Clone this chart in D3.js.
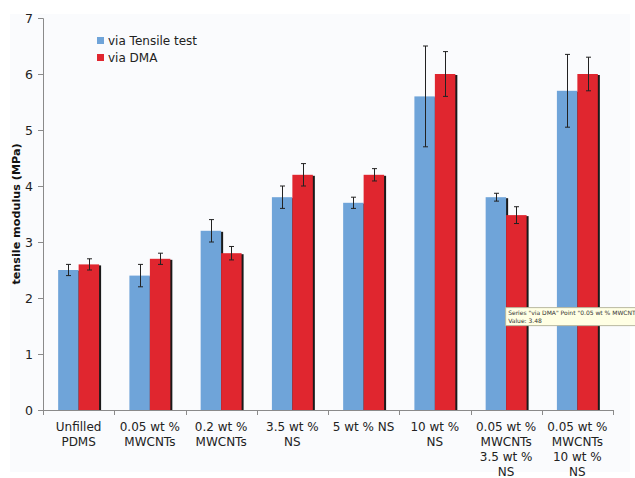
<!DOCTYPE html>
<html>
<head>
<meta charset="utf-8">
<script src="https://cdn.jsdelivr.net/npm/d3@7"></script>
<style>
  html, body { margin: 0; padding: 0; background: #ffffff; }
  svg { display: block; }
  text { font-family: "DejaVu Sans", Verdana, sans-serif; }
</style>
</head>
<body>
<svg id="chart" width="635" height="478"></svg>
<script>
// Sample groups (x-axis labels, one array of lines per group)
const categories = [
  ["Unfilled", "PDMS"],
  ["0.05 wt %", "MWCNTs"],
  ["0.2 wt %", "MWCNTs"],
  ["3.5 wt %", "NS"],
  ["5 wt % NS"],
  ["10 wt %", "NS"],
  ["0.05 wt %", "MWCNTs", "3.5 wt %", "NS"],
  ["0.05 wt %", "MWCNTs", "10 wt %", "NS"]
];
const seriesNames = ["via Tensile test", "via DMA"];
// Tensile modulus (MPa) and standard deviations
const tensileValues = [2.5, 2.4, 3.2, 3.8, 3.7, 5.6, 3.8, 5.7];
const tensileErrors = [0.1, 0.2, 0.2, 0.2, 0.1, 0.9, 0.07, 0.65];
const dmaValues = [2.6, 2.7, 2.8, 4.2, 4.2, 6.0, 3.48, 6.0];
const dmaErrors = [0.1, 0.1, 0.12, 0.2, 0.11, 0.4, 0.15, 0.3];
const yTicks = [0, 1, 2, 3, 4, 5, 6, 7];

const colors = ["#6fa4d9", "#e0262f"];
const svg = d3.select("#chart");

// faint chart-area background
svg.append("rect").attr("x", 10).attr("y", 14).attr("width", 620).attr("height", 458)
  .attr("fill", "#fafbfd");

const margin = { left: 43, right: 22, top: 18, bottom: 68 };
const W = 635, H = 478;
const x0 = d3.scaleBand().domain(d3.range(categories.length))
  .range([margin.left, W - margin.right]).paddingInner(0).paddingOuter(0);
const x1 = d3.scaleBand().domain([0, 1]).range([0, x0.bandwidth()])
  .paddingInner(0).paddingOuter(0.74);
const y = d3.scaleLinear().domain([0, 7]).range([H - margin.bottom, margin.top]);

const series = [
  { name: seriesNames[0], values: tensileValues, errors: tensileErrors },
  { name: seriesNames[1], values: dmaValues, errors: dmaErrors }
];

const gBars = svg.append("g");
// drop shadows behind bars
series.forEach((s, si) => {
  gBars.selectAll(".sh" + si).data(s.values).join("rect")
    .attr("x", (d, i) => x0(i) + x1(si) + 2)
    .attr("y", d => y(d) + 1)
    .attr("width", x1.bandwidth())
    .attr("height", d => y(0) - y(d) - 1)
    .attr("fill", "#1a1a1a");
});
series.forEach((s, si) => {
  gBars.selectAll(".bar" + si).data(s.values).join("rect")
    .attr("x", (d, i) => x0(i) + x1(si))
    .attr("y", d => y(d))
    .attr("width", x1.bandwidth())
    .attr("height", d => y(0) - y(d))
    .attr("fill", colors[si]);
});

// error bars
series.forEach((s, si) => {
  const g = svg.append("g").attr("stroke", "#222").attr("stroke-width", 1);
  s.values.forEach((v, i) => {
    const cx = Math.round(x0(i) + x1(si) + x1.bandwidth() / 2) + 0.5;
    const e = s.errors[i];
    g.append("line").attr("x1", cx).attr("x2", cx).attr("y1", y(v + e)).attr("y2", y(v - e));
    g.append("line").attr("x1", cx - 2.5).attr("x2", cx + 2.5).attr("y1", y(v + e)).attr("y2", y(v + e));
    g.append("line").attr("x1", cx - 2.5).attr("x2", cx + 2.5).attr("y1", y(v - e)).attr("y2", y(v - e));
  });
});

// y axis
const yAxis = svg.append("g").attr("transform", `translate(${margin.left},0)`)
  .call(d3.axisLeft(y).tickValues(yTicks).tickSize(5).tickPadding(5).tickFormat(d3.format("d")));
yAxis.select(".domain").attr("stroke", "#8a8a8a");
yAxis.selectAll(".tick line").attr("stroke", "#8a8a8a");
yAxis.selectAll(".tick text").attr("font-size", 12.5).attr("fill", "#222")
  .style("font-family", '"DejaVu Sans", Verdana, sans-serif');

// x axis with ticks at group boundaries
const xg = svg.append("g");
xg.append("line").attr("x1", margin.left).attr("x2", W - margin.right)
  .attr("y1", y(0) + 0.5).attr("y2", y(0) + 0.5).attr("stroke", "#8a8a8a");
d3.range(categories.length + 1).forEach(i => {
  const xx = Math.round(i < categories.length ? x0(i) : x0(i - 1) + x0.bandwidth()) + 0.5;
  xg.append("line").attr("x1", xx).attr("x2", xx).attr("y1", y(0)).attr("y2", y(0) + 5)
    .attr("stroke", "#8a8a8a");
});
categories.forEach((lines, i) => {
  const t = xg.append("text").attr("x", x0(i) + x0.bandwidth() / 2).attr("y", 431)
    .attr("text-anchor", "middle").attr("font-size", 12).attr("fill", "#222");
  lines.forEach((ln, li) => {
    t.append("tspan").attr("x", x0(i) + x0.bandwidth() / 2).attr("dy", li === 0 ? 0 : 15).text(ln);
  });
});

// y axis title
svg.append("text").attr("transform", `translate(20,${y(3.5)}) rotate(-90)`)
  .attr("text-anchor", "middle").attr("font-size", 11.2).attr("font-weight", "bold")
  .attr("fill", "#111").text("tensile modulus (MPa)");

// legend
const lg = svg.append("g").attr("transform", "translate(97,37)");
seriesNames.forEach((n, i) => {
  lg.append("rect").attr("x", 0).attr("y", i * 17).attr("width", 7).attr("height", 7).attr("fill", colors[i]);
  lg.append("text").attr("x", 11).attr("y", i * 17 + 8).attr("font-size", 12).attr("fill", "#222").text(n);
});

// hover tooltip for the DMA point of group 7 (runs past the window edge, so the
// first line is shortened to what fits)
const ti = 6;
const tx = x0(ti) + x1(1) - 1, ty = y(dmaValues[ti]) + 92;
const tip = svg.append("g").attr("transform", `translate(${tx},${ty})`);
tip.append("rect").attr("x", 0.5).attr("y", 0.5).attr("width", W - tx + 2).attr("height", 18)
  .attr("fill", "#ffffe4").attr("stroke", "#b8b8a0");
const tipLine = `Series "${seriesNames[1]}" Point "${categories[ti][0]} ${categories[ti][1]}`;
tip.append("text").attr("x", 3).attr("y", 8).attr("font-size", 6).attr("fill", "#333")
  .text(tipLine.slice(0, tipLine.length - 1));
tip.append("text").attr("x", 3).attr("y", 15.5).attr("font-size", 6).attr("fill", "#333")
  .text(`Value: ${dmaValues[ti]}`);
</script>
</body>
</html>
